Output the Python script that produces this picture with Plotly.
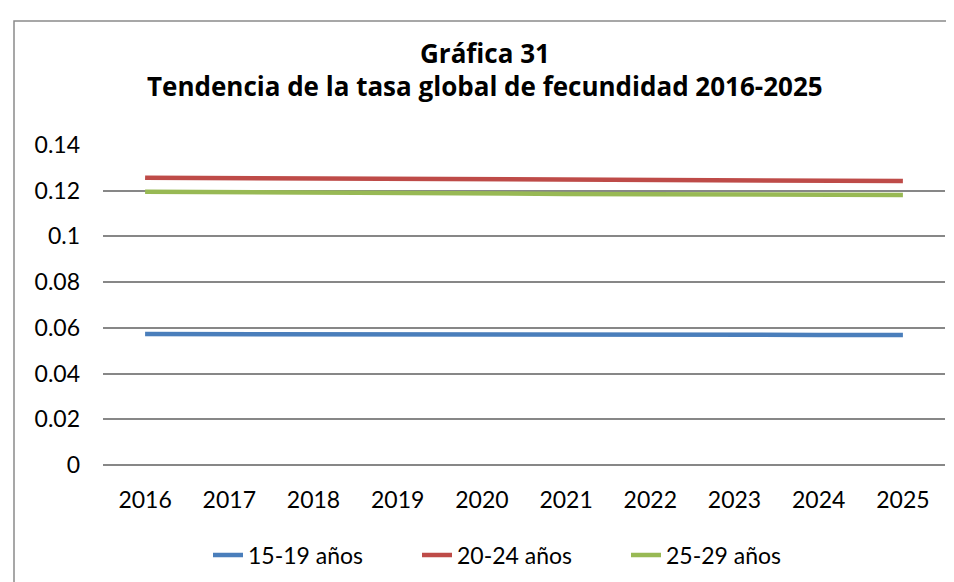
import plotly.graph_objects as go

years = ["2016", "2017", "2018", "2019", "2020", "2021", "2022", "2023", "2024", "2025"]
serie_15_19 = [0.0573, 0.0572, 0.0571, 0.0571, 0.0570, 0.0570, 0.0570, 0.0569, 0.0569, 0.0569]
serie_20_24 = [0.1257, 0.1255, 0.1252, 0.1250, 0.1248, 0.1247, 0.1246, 0.1244, 0.1243, 0.1242]
serie_25_29 = [0.1196, 0.1193, 0.1191, 0.1189, 0.1188, 0.1186, 0.1185, 0.1184, 0.1182, 0.1181]
series_names = ["15-19 años", "20-24 años", "25-29 años"]
colors = ["#4A7EBB", "#BE4B48", "#98B954"]
y_ticks = [0, 0.02, 0.04, 0.06, 0.08, 0.1, 0.12, 0.14]
y_ticktext = ["0", "0.02", "0.04", "0.06", "0.08", "0.1", "0.12", "0.14"]
title_lines = ["Gráfica 31", "Tendencia de la tasa global de fecundidad 2016-2025"]

FONT = "Lato"
TITLE_FONT = "Open Sans"
GRID = "#878787"
L, R, T, B = 95, 17, 137, 125
PW, PH = 954 - L - R, 582 - T - B


def px_x(x):
    return (x - L) / PW


def px_y(y):
    return (582 - B - y) / PH


fig = go.Figure()
for name, vals, c in zip(series_names, [serie_15_19, serie_20_24, serie_25_29], colors):
    fig.add_trace(go.Scatter(x=years, y=vals, name=name, mode="lines",
                             line=dict(color=c, width=4.5)))

annotations = []
for text, ypix in zip(title_lines, [45, 78]):
    annotations.append(dict(text=f"<b>{text}</b>", xref="paper", yref="paper",
                            x=px_x(477), y=px_y(ypix), xanchor="center", yanchor="middle",
                            showarrow=False, font=dict(family=TITLE_FONT, size=26, color="black")))

fig.update_layout(
    width=954, height=582,
    margin=dict(l=L, r=R, t=T, b=B),
    paper_bgcolor="white", plot_bgcolor="white",
    font=dict(family=FONT, size=23, color="black"),
    annotations=annotations,
    showlegend=True,
    legend=dict(orientation="h", x=200 / 954, xref="container", xanchor="left",
                y=1 - 547 / 582, yref="container", yanchor="middle",
                font=dict(family=FONT, size=23), itemwidth=30,
                entrywidth=164, entrywidthmode="pixels",
                traceorder="normal"),
    xaxis=dict(type="category", range=[-0.5, 9.5], showgrid=False, showline=False, ticks="",
               tickfont=dict(size=23), ticklabelstandoff=19, zeroline=False),
    yaxis=dict(range=[0, 0.14], tickvals=y_ticks, ticktext=y_ticktext,
               showgrid=True, gridcolor=GRID, gridwidth=1.5,
               zeroline=True, zerolinecolor=GRID, zerolinewidth=1.5,
               showline=False, ticks="",
               tickfont=dict(size=23), ticklabelstandoff=22),
    shapes=[dict(type="rect", xref="paper", yref="paper",
                 x0=px_x(6), x1=px_x(980),
                 y0=px_y(620), y1=px_y(13),
                 line=dict(color="#8a8a8a", width=1.5), fillcolor="rgba(0,0,0,0)",
                 layer="below")],
)

fig.write_html("out.html")
